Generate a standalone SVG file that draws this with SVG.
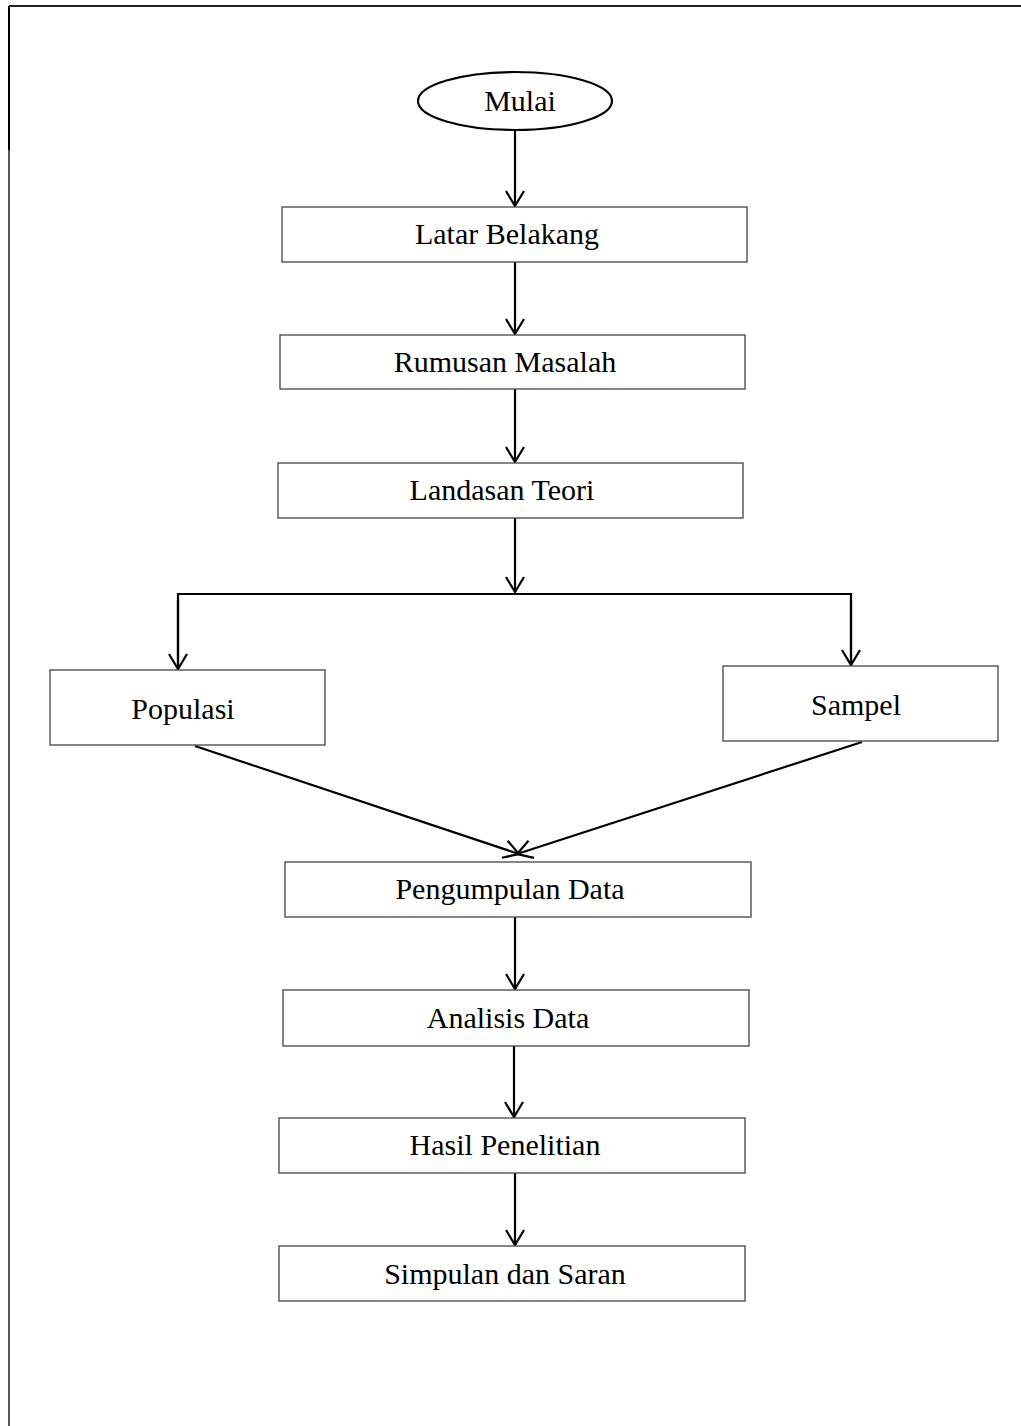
<svg xmlns="http://www.w3.org/2000/svg" width="1021" height="1426" viewBox="0 0 1021 1426">
<defs>
<style>
.box{fill:#fff;stroke:#444;stroke-width:1.3}
.lbl{font-family:"Liberation Serif","Times New Roman",serif;font-size:30px;fill:#000;text-anchor:middle}
.c{fill:none;stroke:#000;stroke-width:2.2}
</style>
<marker id="ah" viewBox="0 0 20 20" refX="18" refY="10" markerWidth="20" markerHeight="20" markerUnits="userSpaceOnUse" orient="auto">
<path d="M3,1 L18,10 L3,19" fill="none" stroke="#000" stroke-width="2.2"/>
</marker>
</defs>
<rect width="1021" height="1426" fill="#fff"/>
<g id="frame">
<line x1="9" y1="6" x2="1021" y2="6" stroke="#222" stroke-width="2"/>
<line x1="9" y1="6" x2="9" y2="150" stroke="#000" stroke-width="2"/>
<line x1="9" y1="150" x2="9" y2="1426" stroke="#555" stroke-width="2"/>
</g>
<g id="connectors">
<line class="c" x1="515" y1="131" x2="515" y2="206" marker-end="url(#ah)"/>
<line class="c" x1="515" y1="262" x2="515" y2="334" marker-end="url(#ah)"/>
<line class="c" x1="515" y1="389" x2="515" y2="462" marker-end="url(#ah)"/>
<line class="c" x1="515" y1="518" x2="515" y2="592" marker-end="url(#ah)"/>
<polyline class="c" points="178,669 178,594 851,594 851,665" />
<line class="c" x1="178" y1="600" x2="178" y2="669" marker-end="url(#ah)"/>
<line class="c" x1="851" y1="600" x2="851" y2="665" marker-end="url(#ah)"/>
<line class="c" x1="195" y1="746" x2="519" y2="854" marker-end="url(#ah)"/>
<line class="c" x1="862" y1="742" x2="517" y2="854" marker-end="url(#ah)"/>
<line class="c" x1="515" y1="917" x2="515" y2="989" marker-end="url(#ah)"/>
<line class="c" x1="514" y1="1046" x2="514" y2="1117" marker-end="url(#ah)"/>
<line class="c" x1="515" y1="1173" x2="515" y2="1245" marker-end="url(#ah)"/>
</g>
<g id="mulai">
<ellipse cx="515" cy="101" rx="97" ry="29" fill="#fff" stroke="#000" stroke-width="2.2"/>
<text class="lbl" x="520" y="111">Mulai</text>
</g>
<g id="latar">
<rect class="box" x="282" y="207" width="465" height="55"/>
<text class="lbl" x="507" y="244">Latar Belakang</text>
</g>
<g id="rumusan">
<rect class="box" x="280" y="335" width="465" height="54"/>
<text class="lbl" x="505" y="372">Rumusan Masalah</text>
</g>
<g id="landasan">
<rect class="box" x="278" y="463" width="465" height="55"/>
<text class="lbl" x="502" y="500">Landasan Teori</text>
</g>
<g id="populasi">
<rect class="box" x="50" y="670" width="275" height="75"/>
<text class="lbl" x="183" y="719">Populasi</text>
</g>
<g id="sampel">
<rect class="box" x="723" y="666" width="275" height="75"/>
<text class="lbl" x="856" y="715">Sampel</text>
</g>
<g id="pengumpulan">
<rect class="box" x="285" y="862" width="466" height="55"/>
<text class="lbl" x="510" y="899">Pengumpulan Data</text>
</g>
<g id="analisis">
<rect class="box" x="283" y="990" width="466" height="56"/>
<text class="lbl" x="508" y="1028">Analisis Data</text>
</g>
<g id="hasil">
<rect class="box" x="279" y="1118" width="466" height="55"/>
<text class="lbl" x="505" y="1155">Hasil Penelitian</text>
</g>
<g id="simpulan">
<rect class="box" x="279" y="1246" width="466" height="55"/>
<text class="lbl" x="505" y="1284">Simpulan dan Saran</text>
</g>
</svg>
